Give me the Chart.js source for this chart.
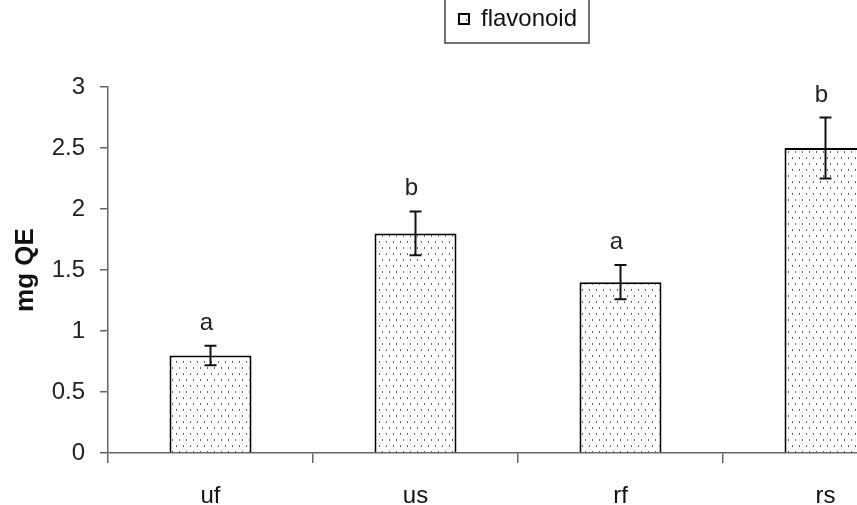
<!DOCTYPE html>
<html>
<head>
<meta charset="utf-8">
<script src="https://cdn.jsdelivr.net/npm/chart.js@4/dist/chart.umd.min.js"></script>
<style>
  html, body { margin: 0; padding: 0; background: #fff; overflow: hidden; }
  #caixa { width: 928px; height: 520px; }
</style>
</head>
<body>
<div id="caixa"><canvas id="grafico"></canvas></div>
<script>
// dados
const categorias = ['uf', 'us', 'rf', 'rs'];
const valores = [0.8, 1.8, 1.4, 2.5];
const erros = [0.08, 0.18, 0.14, 0.25];
const letras = ['a', 'b', 'a', 'b'];
const ticksY = [0, 0.5, 1, 1.5, 2, 2.5, 3];

const fonte = 'Liberation Sans, Arial, sans-serif';

// textura pontilhada das barras
function criarPadrao() {
  const c = document.createElement('canvas');
  c.width = 7;
  c.height = 12;
  const g = c.getContext('2d');
  g.fillStyle = '#fff';
  g.fillRect(0, 0, 7, 12);
  g.fillStyle = '#666';
  g.fillRect(1, 1, 1, 2);
  g.fillRect(4, 7, 1, 2);
  return g.createPattern(c, 'repeat');
}

// barras de erro e letras em cima de cada barra
const errosPlugin = {
  id: 'errosPlugin',
  afterDatasetsDraw(chart) {
    const ctx = chart.ctx;
    const y = chart.scales.y;
    const meta = chart.getDatasetMeta(0);
    ctx.save();
    meta.data.forEach((bar, i) => {
      const topo = y.getPixelForValue(valores[i] + erros[i]);
      const base = y.getPixelForValue(valores[i] - erros[i]);
      ctx.strokeStyle = '#111';
      ctx.lineWidth = 2;
      ctx.beginPath();
      ctx.moveTo(bar.x, topo);
      ctx.lineTo(bar.x, base);
      ctx.moveTo(bar.x - 6, topo);
      ctx.lineTo(bar.x + 6, topo);
      ctx.moveTo(bar.x - 6, base);
      ctx.lineTo(bar.x + 6, base);
      ctx.stroke();
      ctx.fillStyle = '#222';
      ctx.font = '24px ' + fonte;
      ctx.textAlign = 'center';
      ctx.textBaseline = 'alphabetic';
      ctx.fillText(letras[i], bar.x - 4, topo - 16);
    });
    ctx.restore();
  }
};

// moldura da legenda
const molduraLegenda = {
  id: 'molduraLegenda',
  afterDraw(chart) {
    const hb = chart.legend.legendHitBoxes[0];
    if (!hb) return;
    const ctx = chart.ctx;
    ctx.save();
    ctx.strokeStyle = '#444';
    ctx.lineWidth = 1.5;
    ctx.strokeRect(hb.left - 14, -5, hb.width + 26, 48);
    ctx.restore();
  }
};

const ctx = document.getElementById('grafico').getContext('2d');
new Chart(ctx, {
  type: 'bar',
  data: {
    labels: categorias,
    datasets: [{
      label: 'flavonoid',
      data: valores,
      backgroundColor: criarPadrao(),
      borderColor: '#000',
      borderWidth: 2,
      categoryPercentage: 1,
      barPercentage: 0.4
    }]
  },
  options: {
    responsive: true,
    maintainAspectRatio: false,
    animation: false,
    layout: { padding: 0 },
    plugins: {
      legend: {
        display: true,
        position: 'top',
        fullSize: false,
        labels: {
          boxWidth: 10,
          boxHeight: 10,
          padding: 7,
          color: '#111',
          font: { family: fonte, size: 24 }
        }
      },
      // so para dar o espaco entre legenda e grafico
      title: {
        display: true,
        text: '',
        weight: 500,
        fullSize: false,
        font: { size: 10 },
        padding: { top: 34, bottom: 0 }
      },
      tooltip: { enabled: false }
    },
    scales: {
      x: {
        grid: {
          display: true,
          offset: true,
          drawOnChartArea: false,
          drawTicks: true,
          tickLength: 10,
          color: '#666',
          lineWidth: 1.5
        },
        border: { display: true, color: '#666', width: 1.5 },
        ticks: {
          color: '#111',
          padding: 19,
          font: { family: fonte, size: 24 }
        },
        afterFit(scale) { scale.height = 67; }
      },
      y: {
        min: 0,
        max: 3,
        afterBuildTicks(scale) {
          scale.ticks = ticksY.map(v => ({ value: v }));
        },
        grid: {
          display: true,
          drawOnChartArea: false,
          drawTicks: true,
          tickLength: 8,
          color: '#666',
          lineWidth: 1.5
        },
        border: { display: true, color: '#666', width: 1.5 },
        ticks: {
          color: '#222',
          padding: 15,
          font: { family: fonte, size: 24 },
          callback: (v) => String(v)
        },
        title: {
          display: true,
          text: 'mg QE',
          color: '#111',
          padding: { top: 10, bottom: 0 },
          font: { family: fonte, size: 26, weight: 'bold' }
        },
        afterFit(scale) { scale.width = 108; }
      }
    }
  },
  plugins: [errosPlugin, molduraLegenda]
});
</script>
</body>
</html>
